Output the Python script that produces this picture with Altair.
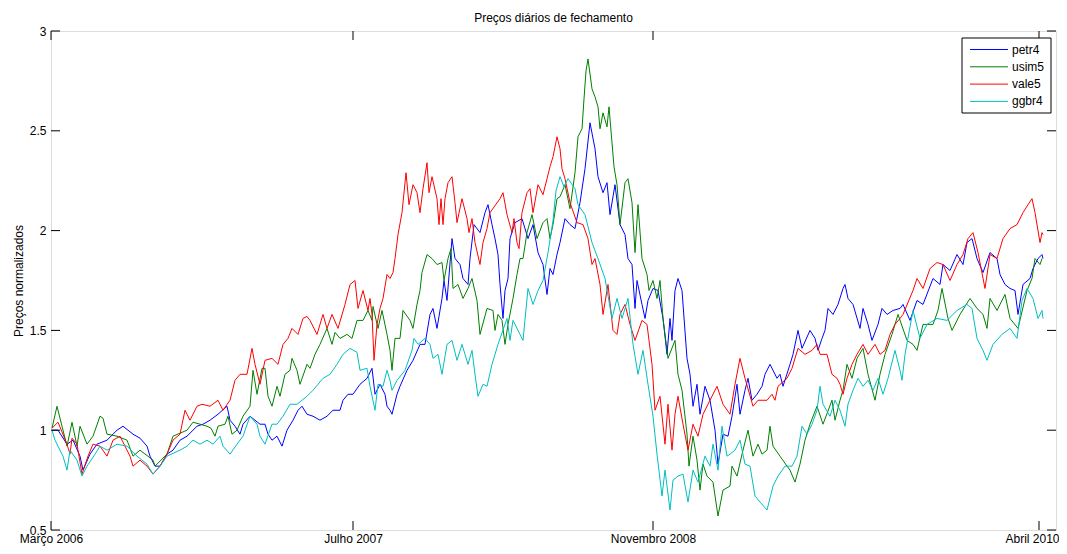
import altair as alt
import pandas as pd

# (trading-day index, normalized closing price)
petr4 = [(1,1.00),(7,1.00),(16,0.93),(22,0.95),(29,0.87),(32,0.80),(39,0.88),(46,0.93),(56,0.95),(66,1.00),(72,1.02),(82,0.98),(89,0.96),(96,0.92),(99,0.87),(104,0.82),(109,0.82),(116,0.88),(122,0.90),(129,0.95),(136,0.97),(146,1.02),(152,1.03),(159,1.05),(167,1.08),(176,1.12),(179,1.05),(184,1.02),(189,0.98),(192,1.03),(199,1.07),(204,1.05),(209,1.03),(214,1.03),(217,0.98),(221,0.95),(226,0.97),(231,0.92),(236,1.00),(242,1.05),(247,1.10),(251,1.12),(256,1.08),(262,1.07),(269,1.05),(276,1.07),(282,1.10),(289,1.10),(292,1.15),(297,1.18),(302,1.18),(309,1.23),(316,1.26),(321,1.31),(324,1.18),(329,1.23),(334,1.18),(336,1.12),(339,1.10),(341,1.08),(346,1.18),(349,1.22),(356,1.30),(362,1.35),(369,1.43),(374,1.43),(379,1.58),(382,1.61),(386,1.51),(391,1.66),(393,1.75),(396,1.65),(401,1.96),(404,1.86),(409,1.83),(412,1.76),(417,1.73),(419,1.86),(423,2.03),(429,1.99),(434,2.09),(437,2.13),(441,2.03),(444,1.96),(447,1.88),(449,1.73),(452,1.56),(454,1.70),(457,1.76),(459,1.96),(464,2.04),(471,2.06),(477,1.96),(482,2.03),(487,1.89),(492,1.83),(496,1.68),(499,1.81),(502,1.78),(506,1.88),(509,1.94),(514,2.06),(519,2.03),(524,2.01),(529,2.14),(534,2.31),(539,2.54),(544,2.41),(547,2.27),(552,2.19),(556,2.24),(559,2.08),(564,2.23),(569,2.03),(574,1.98),(577,1.86),(581,1.83),(584,1.61),(586,1.75),(591,1.63),(594,1.56),(597,1.65),(602,1.71),(607,1.70),(612,1.56),(616,1.38),(619,1.56),(621,1.45),(624,1.70),(627,1.76),(631,1.70),(636,1.36),(639,1.28),(642,1.12),(646,1.23),(649,1.08),(654,1.22),(659,1.15),(664,1.00),(667,0.83),(672,0.98),(677,0.97),(681,1.07),(686,1.23),(689,1.08),(694,1.20),(697,1.26),(701,1.15),(706,1.18),(711,1.22),(714,1.28),(719,1.33),(726,1.26),(729,1.28),(732,1.22),(739,1.33),(742,1.38),(747,1.50),(751,1.41),(759,1.50),(764,1.46),(767,1.40),(771,1.46),(774,1.50),(777,1.61),(782,1.58),(787,1.63),(792,1.71),(794,1.73),(797,1.66),(802,1.63),(809,1.51),(812,1.61),(817,1.53),(821,1.45),(827,1.53),(831,1.61),(836,1.58),(842,1.60),(849,1.61),(852,1.63),(859,1.55),(866,1.65),(872,1.63),(882,1.76),(889,1.73),(892,1.83),(899,1.80),(906,1.88),(912,1.83),(916,1.94),(921,1.96),(926,1.86),(932,1.79),(939,1.89),(946,1.86),(949,1.78),(954,1.73),(959,1.71),(964,1.70),(967,1.58),(972,1.73),(979,1.76),(982,1.81),(987,1.86),(991,1.88),(992,1.86)]

usim5 = [(1,1.01),(6,1.12),(11,1.02),(16,0.92),(21,1.04),(26,0.92),(29,1.02),(36,0.93),(42,0.97),(49,1.07),(52,1.06),(56,0.98),(66,0.97),(76,0.95),(82,0.87),(89,0.90),(102,0.85),(104,0.82),(116,0.88),(122,0.97),(136,1.00),(142,1.04),(149,1.03),(156,1.02),(160,1.01),(164,0.97),(167,1.02),(174,1.03),(177,1.07),(181,0.98),(186,1.00),(192,1.07),(199,1.12),(202,1.30),(206,1.18),(211,1.31),(214,1.31),(217,1.17),(221,1.12),(226,1.22),(229,1.17),(234,1.28),(239,1.30),(241,1.36),(246,1.30),(249,1.23),(256,1.33),(259,1.31),(264,1.38),(269,1.43),(276,1.51),(281,1.43),(284,1.49),(289,1.46),(296,1.48),(301,1.46),(306,1.55),(312,1.55),(317,1.60),(321,1.55),(322,1.62),(327,1.51),(331,1.60),(336,1.48),(339,1.40),(341,1.30),(344,1.46),(349,1.46),(352,1.60),(359,1.55),(362,1.51),(366,1.63),(369,1.70),(371,1.79),(376,1.88),(381,1.86),(386,1.83),(391,1.84),(393,1.75),(397,1.86),(400,1.91),(402,1.71),(407,1.73),(412,1.66),(417,1.71),(421,1.76),(426,1.65),(429,1.48),(436,1.61),(442,1.60),(444,1.50),(447,1.58),(451,1.55),(454,1.43),(457,1.53),(462,1.66),(466,1.78),(469,1.86),(472,1.86),(476,1.99),(481,2.08),(486,1.96),(492,2.04),(496,2.06),(499,1.96),(502,2.03),(506,2.16),(509,2.17),(514,2.23),(519,2.11),(524,2.29),(527,2.47),(531,2.51),(533,2.66),(535,2.80),(537,2.86),(541,2.71),(544,2.67),(547,2.62),(549,2.51),(552,2.59),(556,2.52),(558,2.62),(561,2.44),(563,2.32),(566,2.23),(569,2.03),(574,2.24),(577,2.26),(581,2.14),(584,1.89),(587,2.13),(591,1.86),(596,1.78),(598,1.70),(602,1.75),(606,1.66),(609,1.75),(612,1.56),(617,1.36),(624,1.45),(627,1.28),(631,1.20),(636,0.98),(638,0.82),(642,0.97),(646,0.85),(649,0.70),(652,0.83),(656,0.77),(662,0.74),(667,0.57),(672,0.70),(679,0.72),(681,0.82),(686,0.77),(691,0.88),(697,1.00),(702,0.87),(707,0.93),(711,0.88),(716,0.90),(719,1.02),(722,0.92),(729,0.87),(736,0.82),(739,0.80),(744,0.74),(749,0.83),(754,0.95),(759,1.03),(766,1.12),(772,1.03),(781,1.15),(784,1.05),(789,1.15),(792,1.20),(796,1.33),(801,1.26),(806,1.36),(812,1.41),(817,1.28),(824,1.15),(829,1.28),(834,1.38),(841,1.48),(847,1.58),(856,1.45),(862,1.43),(866,1.40),(872,1.53),(882,1.53),(887,1.60),(891,1.71),(897,1.56),(901,1.50),(909,1.58),(919,1.66),(926,1.61),(932,1.58),(936,1.51),(939,1.66),(946,1.60),(954,1.68),(959,1.56),(967,1.51),(976,1.70),(981,1.76),(984,1.86),(989,1.83),(991,1.86)]

vale5 = [(1,1.01),(7,1.04),(16,0.93),(19,0.88),(21,0.96),(26,0.93),(31,0.78),(37,0.87),(42,0.93),(49,0.92),(56,0.87),(62,0.95),(69,0.97),(79,0.87),(82,0.82),(89,0.85),(96,0.82),(102,0.78),(109,0.82),(116,0.88),(122,0.95),(129,0.98),(134,1.10),(139,1.05),(146,1.12),(151,1.13),(159,1.12),(167,1.15),(172,1.10),(179,1.15),(184,1.25),(189,1.28),(196,1.28),(201,1.41),(204,1.33),(209,1.23),(214,1.35),(221,1.36),(227,1.33),(232,1.43),(237,1.46),(241,1.51),(247,1.48),(252,1.56),(256,1.57),(259,1.55),(266,1.48),(272,1.58),(276,1.51),(281,1.58),(287,1.51),(294,1.63),(299,1.73),(304,1.75),(307,1.61),(312,1.70),(317,1.60),(319,1.66),(321,1.58),(323,1.35),(326,1.53),(329,1.61),(332,1.66),(336,1.78),(339,1.76),(342,1.79),(344,1.86),(347,1.98),(351,2.09),(355,2.29),(358,2.13),(362,2.23),(366,2.19),(369,2.09),(372,2.21),(376,2.34),(378,2.19),(381,2.27),(386,2.16),(388,2.03),(390,2.16),(392,2.03),(394,2.16),(397,2.24),(401,2.27),(404,2.14),(406,2.04),(411,2.16),(416,2.06),(418,1.99),(421,2.06),(424,1.94),(429,1.83),(432,1.94),(436,2.01),(439,2.09),(449,2.16),(452,2.19),(456,2.08),(461,1.99),(463,2.06),(466,1.94),(468,1.91),(471,2.09),(476,2.19),(479,2.21),(482,2.09),(487,2.23),(492,2.18),(496,2.26),(499,2.32),(502,2.37),(506,2.47),(509,2.41),(511,2.31),(514,2.26),(519,2.14),(526,2.04),(532,2.03),(537,1.96),(541,1.83),(544,1.86),(549,1.73),(552,1.58),(557,1.73),(562,1.50),(566,1.48),(569,1.58),(574,1.63),(579,1.53),(584,1.45),(591,1.55),(596,1.53),(601,1.33),(604,1.10),(609,1.17),(614,0.93),(617,1.13),(621,0.90),(624,1.08),(627,1.17),(632,1.03),(637,0.90),(642,1.03),(647,0.97),(652,1.08),(659,1.15),(666,1.22),(672,1.13),(679,1.08),(684,1.23),(689,1.36),(694,1.26),(702,1.12),(707,1.15),(716,1.15),(721,1.18),(724,1.15),(727,1.22),(736,1.26),(741,1.31),(747,1.41),(754,1.38),(761,1.40),(766,1.43),(769,1.38),(776,1.38),(781,1.28),(786,1.26),(789,1.23),(792,1.18),(796,1.26),(801,1.33),(806,1.38),(812,1.43),(817,1.38),(824,1.43),(829,1.38),(834,1.40),(839,1.48),(844,1.53),(849,1.56),(852,1.58),(862,1.70),(866,1.76),(872,1.71),(879,1.81),(886,1.84),(892,1.83),(899,1.75),(906,1.83),(912,1.88),(917,1.96),(922,1.99),(927,1.89),(934,1.71),(939,1.88),(946,1.86),(952,1.96),(959,2.01),(966,2.03),(972,2.09),(977,2.13),(981,2.16),(984,2.09),(989,1.94),(991,1.99),(992,1.98)]

ggbr4 = [(1,1.00),(4,0.95),(12,0.87),(16,0.80),(19,0.90),(26,0.85),(31,0.77),(36,0.82),(44,0.88),(49,0.92),(56,0.90),(66,0.93),(76,0.92),(86,0.87),(96,0.83),(102,0.78),(109,0.82),(116,0.87),(129,0.90),(136,0.92),(142,0.95),(149,0.93),(156,0.95),(162,0.93),(169,0.97),(172,0.92),(179,0.88),(186,0.93),(192,0.97),(199,1.07),(206,1.03),(209,0.97),(214,0.93),(221,1.03),(226,1.03),(232,1.07),(239,1.13),(246,1.13),(256,1.17),(262,1.20),(272,1.26),(279,1.28),(286,1.33),(292,1.38),(299,1.41),(306,1.39),(309,1.30),(316,1.31),(319,1.22),(324,1.10),(327,1.23),(332,1.22),(336,1.30),(339,1.25),(341,1.20),(346,1.25),(354,1.30),(361,1.40),(363,1.46),(367,1.43),(374,1.46),(379,1.43),(382,1.36),(387,1.38),(391,1.28),(396,1.43),(401,1.45),(406,1.35),(411,1.43),(417,1.33),(421,1.40),(424,1.28),(427,1.17),(432,1.23),(436,1.22),(441,1.33),(447,1.43),(456,1.56),(459,1.45),(462,1.55),(469,1.48),(472,1.45),(477,1.71),(482,1.63),(487,1.70),(492,1.75),(497,1.89),(502,2.05),(505,2.20),(509,2.27),(513,2.22),(517,2.26),(524,2.21),(527,2.13),(534,2.08),(541,1.94),(547,1.86),(554,1.76),(561,1.56),(566,1.66),(571,1.56),(577,1.66),(582,1.43),(587,1.28),(592,1.40),(597,1.23),(602,1.07),(606,0.88),(611,0.67),(614,0.80),(619,0.60),(622,0.75),(627,0.77),(632,0.78),(637,0.64),(642,0.80),(647,0.74),(654,0.87),(659,0.82),(662,0.93),(667,0.80),(671,1.02),(676,0.87),(679,0.88),(684,0.90),(689,0.95),(694,0.83),(699,0.82),(704,0.67),(709,0.64),(716,0.60),(722,0.72),(727,0.77),(734,0.82),(741,0.82),(746,0.87),(751,1.02),(756,0.98),(761,1.03),(766,1.10),(769,1.22),(772,1.13),(779,1.07),(784,1.15),(789,1.10),(794,1.02),(797,1.13),(802,1.20),(807,1.26),(812,1.22),(817,1.25),(822,1.20),(827,1.26),(832,1.18),(837,1.26),(844,1.40),(849,1.30),(851,1.25),(854,1.38),(862,1.60),(869,1.46),(876,1.53),(886,1.56),(896,1.55),(906,1.60),(916,1.63),(921,1.61),(926,1.46),(932,1.40),(936,1.35),(942,1.43),(951,1.48),(959,1.51),(966,1.46),(971,1.65),(976,1.71),(982,1.66),(987,1.56),(991,1.60),(992,1.56)]

series_names = ["petr4", "usim5", "vale5", "ggbr4"]
series_data = [petr4, usim5, vale5, ggbr4]
series_colors = ["#0000ff", "#008000", "#ff0000", "#00bfbf"]

tick_days = [0, 302, 602, 988]
tick_labels = ["Março 2006", "Julho 2007", "Novembro 2008", "Abril 2010"]
y_ticks = [0.5, 1, 1.5, 2, 2.5, 3]

FONT = "Liberation Sans"
W, H = 1005, 499

rows = []
for name, pts in zip(series_names, series_data):
    for d, v in pts:
        rows.append({"dia": d, "preco": v, "serie": name})
df = pd.DataFrame(rows)

xs = alt.Scale(domain=[0, 1005], nice=False, zero=False)
ys = alt.Scale(domain=[0.5, 3], nice=False, zero=False)

label_expr = " : ".join(
    f"datum.value == {d} ? '{l}'" for d, l in zip(tick_days, tick_labels)
) + " : ''"

x_axis = alt.Axis(values=tick_days, labelExpr=label_expr, title=None, grid=False,
                  ticks=False, domain=False, labelPadding=3, labelFontSize=12,
                  labelFont=FONT, labelColor="black", labelFlush=False,
                  labelOffset={"condition": {"test": f"datum.value == {tick_days[-1]}", "value": -7},
                               "value": 0})
y_axis = alt.Axis(values=y_ticks, format="~g", title="Preços normalizados", grid=False,
                  ticks=False, domain=False, labelPadding=5, titlePadding=4,
                  labelFontSize=12, labelFont=FONT, labelColor="black",
                  titleFont=FONT, titleFontSize=12, titleFontWeight="normal",
                  titleColor="black")

X = alt.X("dia:Q", scale=xs, axis=x_axis)
Y = alt.Y("preco:Q", scale=ys, axis=y_axis)

lines = alt.Chart(df).mark_line(strokeWidth=1, clip=True).encode(
    x=X, y=Y,
    color=alt.Color("serie:N", scale=alt.Scale(domain=series_names, range=series_colors), legend=None),
    order=alt.Order("dia:Q"),
)

ytick_df = pd.DataFrame({"preco": y_ticks})
xtick_df = pd.DataFrame({"dia": tick_days})
TL = 9
left_ticks = alt.Chart(ytick_df).mark_rule(color="black", strokeWidth=1).encode(
    y=Y, x=alt.value(0), x2=alt.value(TL))
right_ticks = alt.Chart(ytick_df).mark_rule(color="black", strokeWidth=1).encode(
    y=Y, x=alt.value(W - TL), x2=alt.value(W))
bottom_ticks = alt.Chart(xtick_df).mark_rule(color="black", strokeWidth=1).encode(
    x=X, y=alt.value(H - TL), y2=alt.value(H))
top_ticks = alt.Chart(xtick_df).mark_rule(color="black", strokeWidth=1).encode(
    x=X, y=alt.value(0), y2=alt.value(TL))

legend_box = alt.Chart(pd.DataFrame({"a": [0]})).mark_rect(
    fill="white", stroke="black", strokeWidth=1).encode(
    x=alt.value(911), x2=alt.value(1000), y=alt.value(7), y2=alt.value(82))

legend_layers = [legend_box]
for i, (name, col) in enumerate(zip(series_names, series_colors)):
    yy = 18.5 + 17.3 * i
    one = pd.DataFrame({"serie": [name]})
    legend_layers.append(alt.Chart(one).mark_rule(color=col, strokeWidth=1).encode(
        x=alt.value(919), x2=alt.value(957), y=alt.value(yy)))
    legend_layers.append(alt.Chart(one).mark_text(
        align="left", baseline="middle", font=FONT, fontSize=12, color="black").encode(
        x=alt.value(961), y=alt.value(yy), text="serie:N"))

chart = alt.layer(lines, left_ticks, right_ticks, bottom_ticks, top_ticks, *legend_layers).properties(
    width=W, height=H,
    title=alt.Title("Preços diários de fechamento", anchor="middle", font=FONT,
                    fontSize=12, fontWeight="normal", color="black", offset=0),
    padding={"left": 43, "top": 23, "right": 3, "bottom": 16},
    autosize=alt.AutoSizeParams(type="none"),
).configure_view(stroke="black", strokeWidth=1).configure(background="white")

chart.save("out.html", embed_options={"renderer": "svg", "actions": False})
